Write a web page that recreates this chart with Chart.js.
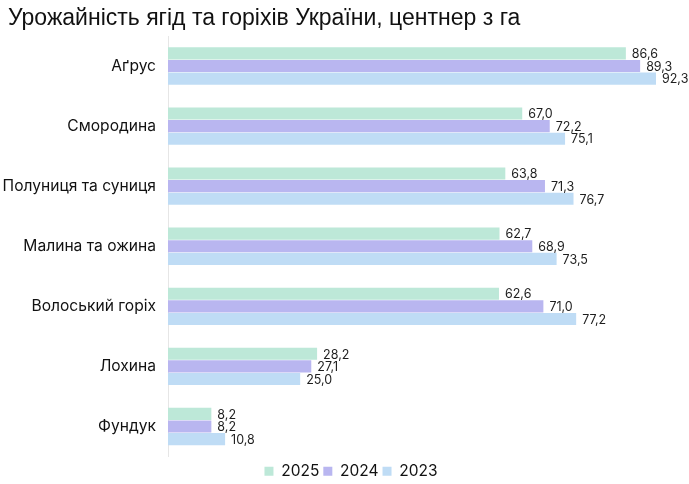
<!DOCTYPE html>
<html>
<head>
<meta charset="utf-8">
<script src="https://cdn.jsdelivr.net/npm/chart.js@4"></script>
<style>
  html, body { margin: 0; padding: 0; background: #ffffff; }
  #wrap { width: 689px; height: 484px; position: relative; }
</style>
</head>
<body>
<div id="wrap"><canvas id="c"></canvas></div>
<script>
const titleText = "Урожайність ягід та горіхів України, центнер з га";
const categories = ["Аґрус", "Смородина", "Полуниця та суниця", "Малина та ожина", "Волоський горіх", "Лохина", "Фундук"];
const seriesNames = ["2025", "2024", "2023"];
const values2025 = [86.6, 67.0, 63.8, 62.7, 62.6, 28.2, 8.2];
const values2024 = [89.3, 72.2, 71.3, 68.9, 71.0, 27.1, 8.2];
const values2023 = [92.3, 75.1, 76.7, 73.5, 77.2, 25.0, 10.8];
const seriesColors = ["#bde8d8", "#b9b6f0", "#bfdcf5"];

const allSeries = [values2025, values2024, values2023];
const xMax = Math.max(...allSeries.flat());

const valueLabels = {
  id: 'valueLabels',
  afterDatasetsDraw(chart) {
    const ctx = chart.ctx;
    ctx.save();
    ctx.font = '12.5px Inter, "Noto Sans", sans-serif';
    ctx.fillStyle = '#1e1e1e';
    ctx.textAlign = 'left';
    ctx.textBaseline = 'middle';
    chart.data.datasets.forEach((ds, di) => {
      const meta = chart.getDatasetMeta(di);
      meta.data.forEach((el, i) => {
        const v = ds.data[i];
        ctx.fillText(v.toFixed(1).replace('.', ','), el.x + 6, el.y + 1);
      });
    });
    ctx.restore();
  }
};

const blockShift = {
  id: 'blockShift',
  afterLayout(chart) {
    const lg = chart.legend;
    if (lg) {
      lg.left += 23; lg.right += 23;
      lg.top += 3; lg.bottom += 3;
    }
    const tb = chart.titleBlock;
    if (tb) { tb.left += 8; tb.right += 8; }
  }
};

new Chart(document.getElementById('c'), {
  type: 'bar',
  data: {
    labels: categories,
    datasets: allSeries.map((vals, i) => ({
      label: seriesNames[i],
      data: vals,
      backgroundColor: seriesColors[i],
      borderWidth: 0,
      categoryPercentage: 0.63,
      barPercentage: 0.96
    }))
  },
  options: {
    indexAxis: 'y',
    responsive: true,
    maintainAspectRatio: false,
    animation: false,
    layout: { padding: { left: 0, right: 33, top: 0, bottom: -2 } },
    scales: {
      x: { display: false, min: 0, max: xMax },
      y: {
        grid: { display: true, drawOnChartArea: false, drawTicks: false },
        border: { display: true, color: '#e6e6e6', width: 1 },
        ticks: {
          padding: 12,
          color: '#111111',
          font: { family: 'Inter, "Noto Sans", sans-serif', size: 15.6 }
        },
        afterFit(scale) { scale.width = 168; }
      }
    },
    plugins: {
      title: {
        display: true,
        text: titleText,
        align: 'start',
        color: '#111111',
        font: { family: '"Liberation Sans", Arial, sans-serif', size: 23, weight: 'normal' },
        padding: { top: 5, bottom: 3.4 }
      },
      legend: {
        position: 'bottom',
        labels: {
          boxWidth: 9,
          boxHeight: 9,
          padding: 4,
          color: '#111111',
          font: { family: 'Inter, "Noto Sans", sans-serif', size: 15.5 }
        }
      },
      tooltip: { enabled: false }
    }
  },
  plugins: [valueLabels, blockShift]
});
</script>
</body>
</html>
